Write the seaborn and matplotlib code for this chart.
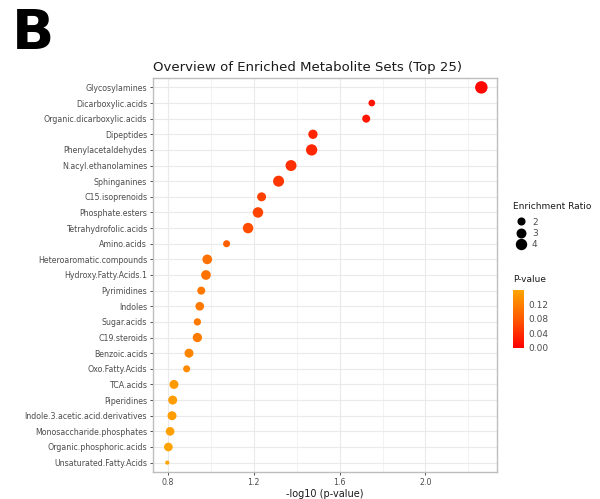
import numpy as np
import pandas as pd
import matplotlib
matplotlib.use("Agg")
import matplotlib.pyplot as plt
import seaborn as sns
from matplotlib.colors import LinearSegmentedColormap, Normalize
from matplotlib.cm import ScalarMappable
from matplotlib.lines import Line2D

# ---- data ----
metabolite_sets = [
    "Glycosylamines", "Dicarboxylic.acids", "Organic.dicarboxylic.acids",
    "Dipeptides", "Phenylacetaldehydes", "N.acyl.ethanolamines",
    "Sphinganines", "C15.isoprenoids", "Phosphate.esters",
    "Tetrahydrofolic.acids", "Amino.acids", "Heteroaromatic.compounds",
    "Hydroxy.Fatty.Acids.1", "Pyrimidines", "Indoles", "Sugar.acids",
    "C19.steroids", "Benzoic.acids", "Oxo.Fatty.Acids", "TCA.acids",
    "Piperidines", "Indole.3.acetic.acid.derivatives",
    "Monosaccharide.phosphates", "Organic.phosphoric.acids",
    "Unsaturated.Fatty.Acids",
]
neg_log10_p = [
    2.26, 1.75, 1.724, 1.476, 1.47, 1.374, 1.316, 1.237, 1.22, 1.174,
    1.074, 0.984, 0.978, 0.956, 0.949, 0.938, 0.938, 0.899, 0.888, 0.829,
    0.823, 0.82, 0.811, 0.803, 0.798,
]
enrichment_ratio = [
    6.4, 2.0, 2.7, 3.5, 5.0, 4.76, 4.76, 3.3, 4.37, 4.37,
    2.15, 3.78, 3.78, 2.7, 3.1, 2.3, 3.5, 3.3, 2.15, 3.3,
    3.3, 3.3, 3.1, 3.1, 0.95,
]
x_ticks = [0.8, 1.2, 1.6, 2.0]
size_legend_values = [2, 3, 4]
pvalue_ticks = [0.00, 0.04, 0.08, 0.12]

df = pd.DataFrame({
    "set": metabolite_sets,
    "logp": neg_log10_p,
    "ratio": enrichment_ratio,
})
df["pval"] = 10 ** (-df["logp"])

# ---- style ----
cmap = LinearSegmentedColormap.from_list("ro", ["#FF0000", "#FF5A00", "#FFA500"])
hue_norm = (0.0, 0.16)
size_range = (9.08, 80.4)
size_norm = (1.0, 6.0)

def ratio_to_area(r):
    return size_range[0] + (r - size_norm[0]) / (size_norm[1] - size_norm[0]) * (size_range[1] - size_range[0])

fig = plt.figure(figsize=(6.0, 4.99), dpi=100)
ax = fig.add_axes([0.2545, 0.0541, 0.5735, 0.7896])

sns.scatterplot(
    data=df, x="logp", y="set", hue="pval", size="ratio",
    palette=cmap, hue_norm=hue_norm, sizes=size_range, size_norm=size_norm,
    legend=False, ax=ax, linewidth=0, zorder=3,
)

ax.set_xlim(0.730, 2.332)
ax.set_ylim(len(metabolite_sets) - 0.4, -0.6)
ax.set_xticks(x_ticks)
ax.set_xticklabels([f"{t:.1f}" for t in x_ticks])
ax.set_xticks([1.0, 1.4, 1.8, 2.2], minor=True)
ax.set_facecolor("white")
ax.grid(True, which="major", color="#EAEAEA", linewidth=0.8, zorder=0)
ax.grid(True, which="minor", axis="x", color="#F0F0F0", linewidth=0.6, zorder=0)
ax.set_axisbelow(True)
for sp in ax.spines.values():
    sp.set_color("#BDBDBD")
    sp.set_linewidth(1.0)
ax.tick_params(axis="both", which="major", length=2.5, width=0.6, color="#333333",
               labelsize=5.7, labelcolor="#4D4D4D", pad=1.5)
ax.tick_params(axis="x", which="minor", length=0)
ax.set_ylabel("")
ax.set_xlabel("-log10 (p-value)", fontsize=7, color="#1A1A1A", labelpad=2)
ax.set_title("Overview of Enriched Metabolite Sets (Top 25)", fontsize=9.5,
             color="#1A1A1A", pad=5, loc="left")

# big panel letter
fig.text(0.02, 0.985, "B", fontsize=40, fontweight="bold", va="top", ha="left")

# size legend
fig.text(0.855, 0.587, "Enrichment Ratio", fontsize=6.5, color="#1A1A1A", va="center")
handles = [Line2D([], [], linestyle="none", marker="o", color="black",
                  markersize=np.sqrt(ratio_to_area(v))) for v in size_legend_values]
leg = fig.legend(handles, [str(v) for v in size_legend_values], loc="upper left",
                 bbox_to_anchor=(0.852, 0.573), frameon=False, fontsize=6.5,
                 handletextpad=0.6, labelspacing=0.25, borderpad=0, handlelength=1.2)
for t in leg.get_texts():
    t.set_color("#4D4D4D")

# colour bar
fig.text(0.855, 0.439, "P-value", fontsize=6.5, color="#1A1A1A", va="center")
cax = fig.add_axes([0.8545, 0.303, 0.0195, 0.116])
sm = ScalarMappable(norm=Normalize(*hue_norm), cmap=cmap)
cb = fig.colorbar(sm, cax=cax)
cb.set_ticks(pvalue_ticks)
cb.set_ticklabels([f"{t:.2f}" for t in pvalue_ticks])
cb.outline.set_visible(False)
cax.tick_params(labelsize=6.5, labelcolor="#4D4D4D", length=0, pad=3)

fig.savefig("out.png", dpi=100, facecolor="white")
